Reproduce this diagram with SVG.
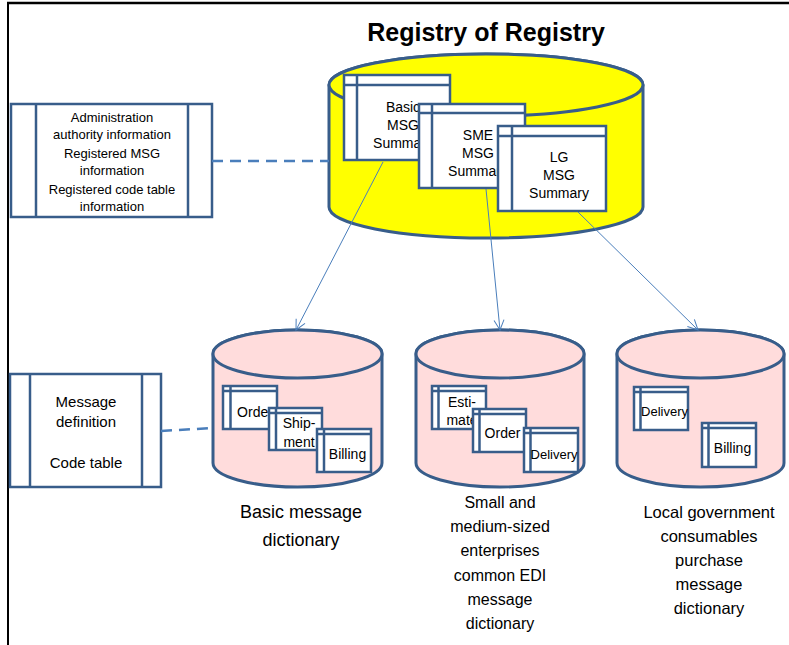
<svg xmlns="http://www.w3.org/2000/svg" width="789" height="645" viewBox="0 0 789 645">
<defs>
<style>
.cyl{stroke:#385d8a;stroke-width:3}
.card{fill:#fff;stroke:#385d8a;stroke-width:2.5}
.ln{stroke:#385d8a;stroke-width:2.5;fill:none}
.t{font-family:"Liberation Sans",Arial,sans-serif;fill:#000;text-anchor:middle}
.dash{stroke:#4a7ebb;stroke-width:2.5;stroke-dasharray:11 7;fill:none}
.arr{stroke:#4a7ebb;stroke-width:1;fill:none}
</style>
<marker id="ah" viewBox="0 0 12 12" refX="11" refY="6" markerWidth="12" markerHeight="12" markerUnits="userSpaceOnUse" orient="auto">
<path d="M1,1 L11,6 L1,11" fill="none" stroke="#4a7ebb" stroke-width="1"/>
</marker>
</defs>
<rect x="0" y="0" width="789" height="645" fill="#fff"/>
<line x1="7" y1="3" x2="789" y2="3" stroke="#000" stroke-width="2.5"/>
<line x1="8" y1="2" x2="8" y2="645" stroke="#000" stroke-width="2"/>

<text class="t" x="486" y="41" font-size="25" font-weight="bold">Registry of Registry</text>

<g id="registry">
<path class="cyl" fill="#ffff00" d="M329,85 L329,207 A157,31 0 0 0 643,207 L643,85 A157,31 0 0 0 329,85 Z"/>
<ellipse class="cyl" fill="#ffff00" cx="486" cy="85" rx="157" ry="31"/>
<g id="basic-summary">
<rect class="card" x="344" y="75" width="106" height="85"/>
<line class="ln" x1="357" y1="75" x2="357" y2="160"/>
<line class="ln" x1="344" y1="85" x2="450" y2="85"/>
<text class="t" font-size="14" x="403" y="112">Basic</text>
<text class="t" font-size="14" x="403" y="130">MSG</text>
<text class="t" font-size="14" x="403" y="148">Summary</text>
</g>
<g id="sme-summary">
<rect class="card" x="419" y="104" width="106" height="84"/>
<line class="ln" x1="432" y1="104" x2="432" y2="188"/>
<line class="ln" x1="419" y1="113" x2="525" y2="113"/>
<text class="t" font-size="14" x="478" y="140">SME</text>
<text class="t" font-size="14" x="478" y="158">MSG</text>
<text class="t" font-size="14" x="478" y="176">Summary</text>
</g>
<g id="lg-summary">
<rect class="card" x="498" y="126" width="108" height="85"/>
<line class="ln" x1="512" y1="126" x2="512" y2="211"/>
<line class="ln" x1="498" y1="136" x2="606" y2="136"/>
<text class="t" font-size="14" x="559" y="162">LG</text>
<text class="t" font-size="14" x="559" y="180">MSG</text>
<text class="t" font-size="14" x="559" y="198">Summary</text>
</g>
</g>

<g id="registry-info">
<rect class="card" x="11" y="104" width="201" height="113"/>
<line class="ln" x1="36" y1="104" x2="36" y2="217"/>
<line class="ln" x1="188" y1="104" x2="188" y2="217"/>
<text class="t" font-size="13" x="112" y="122">Administration</text>
<text class="t" font-size="13" x="112" y="139">authority information</text>
<text class="t" font-size="13" x="112" y="158">Registered MSG</text>
<text class="t" font-size="13" x="112" y="175">information</text>
<text class="t" font-size="13" x="112" y="194">Registered code table</text>
<text class="t" font-size="13" x="112" y="211">information</text>
</g>

<g id="dict-info">
<rect class="card" x="10" y="374" width="151" height="113"/>
<line class="ln" x1="30" y1="374" x2="30" y2="487"/>
<line class="ln" x1="142" y1="374" x2="142" y2="487"/>
<text class="t" font-size="15" x="86" y="407">Message</text>
<text class="t" font-size="15" x="86" y="427">definition</text>
<text class="t" font-size="15" x="86" y="468">Code table</text>
</g>

<g id="basic-dict">
<path class="cyl" fill="#ffdcdc" d="M213,354 L213,463 A84.5,24 0 0 0 382,463 L382,354 A84.5,24 0 0 0 213,354 Z"/>
<ellipse class="cyl" fill="#ffdcdc" cx="297.5" cy="354" rx="84.5" ry="24"/>
<rect class="card" x="223" y="386" width="54" height="43"/>
<line class="ln" x1="230.5" y1="386" x2="230.5" y2="429"/>
<line class="ln" x1="223" y1="391" x2="277" y2="391"/>
<text class="t" font-size="14" x="255" y="417">Order</text>
<rect class="card" x="269" y="408" width="53" height="42"/>
<line class="ln" x1="276" y1="408" x2="276" y2="450"/>
<line class="ln" x1="269" y1="413" x2="322" y2="413"/>
<text class="t" font-size="14" x="299" y="428">Ship-</text>
<text class="t" font-size="14" x="299" y="447">ment</text>
<rect class="card" x="317" y="429" width="54" height="43"/>
<line class="ln" x1="324" y1="429" x2="324" y2="472"/>
<line class="ln" x1="317" y1="434" x2="371" y2="434"/>
<text class="t" font-size="14" x="347.5" y="459">Billing</text>
<text class="t" font-size="18" x="301" y="518">Basic message</text>
<text class="t" font-size="18" x="301" y="546">dictionary</text>
</g>

<g id="sme-dict">
<path class="cyl" fill="#ffdcdc" d="M416,354 L416,463 A84,24 0 0 0 584,463 L584,354 A84,24 0 0 0 416,354 Z"/>
<ellipse class="cyl" fill="#ffdcdc" cx="500" cy="354" rx="84" ry="24"/>
<rect class="card" x="432" y="386" width="54" height="43"/>
<line class="ln" x1="438.5" y1="386" x2="438.5" y2="429"/>
<line class="ln" x1="432" y1="391" x2="486" y2="391"/>
<text class="t" font-size="14" x="462" y="407">Esti-</text>
<text class="t" font-size="14" x="462" y="425">mate</text>
<rect class="card" x="473" y="409" width="53" height="43"/>
<line class="ln" x1="479.5" y1="409" x2="479.5" y2="452"/>
<line class="ln" x1="473" y1="414" x2="526" y2="414"/>
<text class="t" font-size="14" x="502.5" y="438">Order</text>
<rect class="card" x="524" y="428" width="54" height="44"/>
<line class="ln" x1="530.5" y1="428" x2="530.5" y2="472"/>
<line class="ln" x1="524" y1="433" x2="578" y2="433"/>
<text class="t" font-size="13" x="554" y="459">Delivery</text>
<text class="t" font-size="16" x="500" y="508">Small and</text>
<text class="t" font-size="16" x="500" y="532">medium-sized</text>
<text class="t" font-size="16" x="500" y="556">enterprises</text>
<text class="t" font-size="16" x="500" y="581">common EDI</text>
<text class="t" font-size="16" x="500" y="605">message</text>
<text class="t" font-size="16" x="500" y="629">dictionary</text>
</g>

<g id="lg-dict">
<path class="cyl" fill="#ffdcdc" d="M617,354 L617,463 A83.5,24 0 0 0 784,463 L784,354 A83.5,24 0 0 0 617,354 Z"/>
<ellipse class="cyl" fill="#ffdcdc" cx="700.5" cy="354" rx="83.5" ry="24"/>
<rect class="card" x="634" y="387" width="54" height="43"/>
<line class="ln" x1="640.5" y1="387" x2="640.5" y2="430"/>
<line class="ln" x1="634" y1="392" x2="688" y2="392"/>
<text class="t" font-size="13" x="664.5" y="416">Delivery</text>
<rect class="card" x="702" y="423" width="54" height="44"/>
<line class="ln" x1="708.5" y1="423" x2="708.5" y2="467"/>
<line class="ln" x1="702" y1="428" x2="756" y2="428"/>
<text class="t" font-size="14" x="732.5" y="453">Billing</text>
<text class="t" font-size="16.5" x="709" y="518">Local government</text>
<text class="t" font-size="16.5" x="709" y="542">consumables</text>
<text class="t" font-size="16.5" x="709" y="566">purchase</text>
<text class="t" font-size="16.5" x="709" y="590">message</text>
<text class="t" font-size="16.5" x="709" y="614">dictionary</text>
</g>

<g id="connectors">
<line class="dash" x1="212" y1="161" x2="329" y2="161"/>
<line class="dash" x1="161" y1="431" x2="213" y2="428"/>
<line class="arr" x1="383" y1="162" x2="296" y2="330" marker-end="url(#ah)"/>
<line class="arr" x1="486" y1="189" x2="500" y2="330" marker-end="url(#ah)"/>
<line class="arr" x1="578" y1="212" x2="698" y2="330" marker-end="url(#ah)"/>
</g>
</svg>
